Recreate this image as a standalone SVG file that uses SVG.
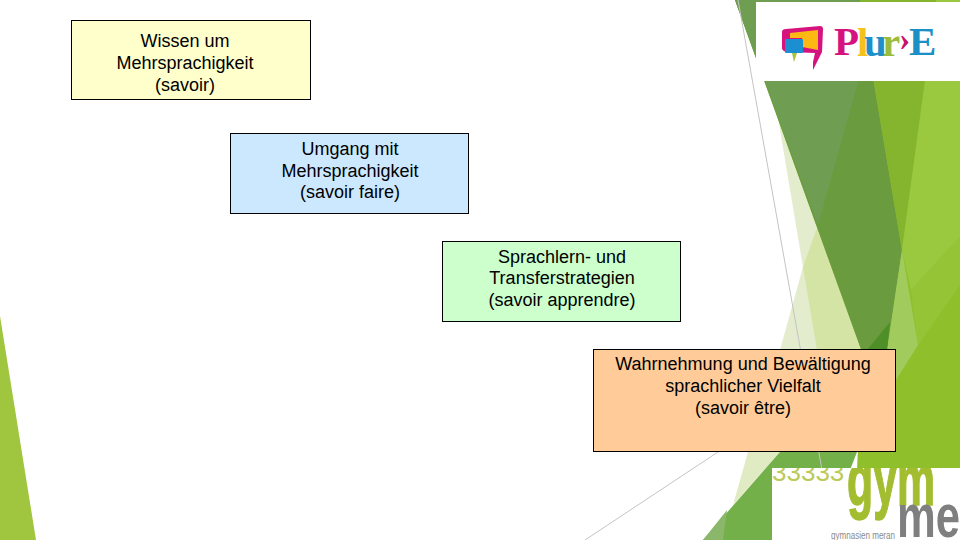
<svg xmlns="http://www.w3.org/2000/svg" width="960" height="540" viewBox="0 0 960 540">
<style>
.box{stroke:#000;stroke-width:1}
.t{font-family:"Liberation Sans",Arial,sans-serif;font-size:18px;fill:#000;text-anchor:middle}
.hair{fill:none;stroke:#c4c4c4;stroke-width:1}
.serif{font-family:"Liberation Serif","Times New Roman",serif;font-weight:bold;font-size:41px}
.sans{font-family:"Liberation Sans",Arial,sans-serif}
</style>
<defs>
<clipPath id="gymClip"><rect x="772" y="468" width="188" height="72"/></clipPath>
</defs>
<rect width="960" height="540" fill="#fff"/>
<g id="background">
<polygon points="0,316 36,540 0,540" fill="#a0c63f"/>
<polygon points="775,100 803,267 780,350 862,350" fill="#e3eccd"/>
<polygon points="817,228 803,267 817,350 862,350" fill="#d3e4a4"/>
<polygon points="735,0 960,0 960,470 857,470 862,352" fill="#8fc02c"/>
<polygon points="735,0 860,0 902,250 887,352 862,352" fill="#6a9c3f"/>
<polygon points="735,0 881,0 818,225" fill="#6f9e52"/>
<polygon points="860,0 936,0 902,250" fill="#85b52e"/>
<polygon points="936,0 960,0 960,237 911,290 902,250" fill="#9ac83f"/>
<polygon points="960,237 960,285 918,345 911,290" fill="#95c436"/>
<polygon points="902,250 918,345 896,380 887,350" fill="#a2cb5e"/>
<polygon points="867,350 890,322 887,350" fill="#4f8f27"/>
<polygon points="748,452 780,452 733,505" fill="#e0ebc4"/>
<polygon points="780,452 857,452 850,470 772,470 772,540 703,540" fill="#74b04a"/>
<polygon points="703,540 727,510 723,540" fill="#8ab76a"/>
</g>
<g id="connectors">
<path class="hair" d="M738,0 L822,470"/>
<path class="hair" d="M718,452 L585,540"/>
</g>
<g id="logo-plure">
<rect x="756" y="2" width="204" height="79" fill="#fff"/>
<path d="M782,32 Q782,29 786,29 L820,26 Q823,26 823,29 L822,52 L813,70 L813,62 L815,53 L787,52 Q782,51 782,48 Z" fill="#d6127f"/>
<polygon points="790,33 818,30 818,50 802,47 802,38 790,38" fill="#fdb813"/>
<rect x="785" y="39" width="18" height="14" rx="1" fill="#1b8fd2"/>
<polygon points="792,53 797,53 794,62" fill="#a9c23f"/>
<text class="serif" y="55"><tspan x="834" fill="#d4137f">P</tspan><tspan x="857" y="56" fill="#f5c11c">l</tspan><tspan x="864" fill="#1e8fc8">u</tspan><tspan x="882" fill="#9dbb3a">r</tspan><tspan x="899" y="50" fill="#c8106f" font-size="34">›</tspan><tspan x="909" y="55" fill="#1b8fc6">E</tspan></text>
</g>
<g id="logo-gym">
<rect x="772" y="468" width="188" height="72" fill="#fff"/>
<g clip-path="url(#gymClip)">
<text class="sans" x="772" y="481" font-size="26" fill="#bcca5a">33333</text>
<text class="sans" x="847" y="505" font-size="74" font-weight="bold" fill="#a3bd31" stroke="#a3bd31" stroke-width="1.500" textLength="88" lengthAdjust="spacingAndGlyphs">gym</text>
<text class="sans" x="897" y="537" font-size="62" font-weight="bold" fill="#7f7f7f" textLength="63" lengthAdjust="spacingAndGlyphs">me</text>
<text class="sans" x="831" y="539" font-size="10" fill="#8a8a8a" textLength="64" lengthAdjust="spacingAndGlyphs">gymnasien meran</text>
</g>
</g>
<g id="node-savoir">
<rect class="box" x="71.500" y="20.500" width="239" height="79" fill="#ffffcc"/>
<text class="t"><tspan x="185" y="47">Wissen um</tspan><tspan x="185" y="69">Mehrsprachigkeit</tspan><tspan x="185" y="91">(savoir)</tspan></text>
</g>
<g id="node-savoir-faire">
<rect class="box" x="230.500" y="133.500" width="238" height="80" fill="#cce8ff"/>
<text class="t"><tspan x="350" y="155">Umgang mit</tspan><tspan x="350" y="177">Mehrsprachigkeit</tspan><tspan x="350" y="198">(savoir faire)</tspan></text>
</g>
<g id="node-savoir-apprendre">
<rect class="box" x="442.500" y="241.500" width="238" height="80" fill="#ccffcc"/>
<text class="t"><tspan x="562" y="263">Sprachlern- und</tspan><tspan x="562" y="284">Transferstrategien</tspan><tspan x="562" y="306">(savoir apprendre)</tspan></text>
</g>
<g id="node-savoir-etre">
<rect class="box" x="593.500" y="349.500" width="302" height="102" fill="#ffcc99"/>
<text class="t"><tspan x="743" y="370">Wahrnehmung und Bewältigung</tspan><tspan x="743" y="392">sprachlicher Vielfalt</tspan><tspan x="743" y="414">(savoir être)</tspan></text>
</g>
</svg>
